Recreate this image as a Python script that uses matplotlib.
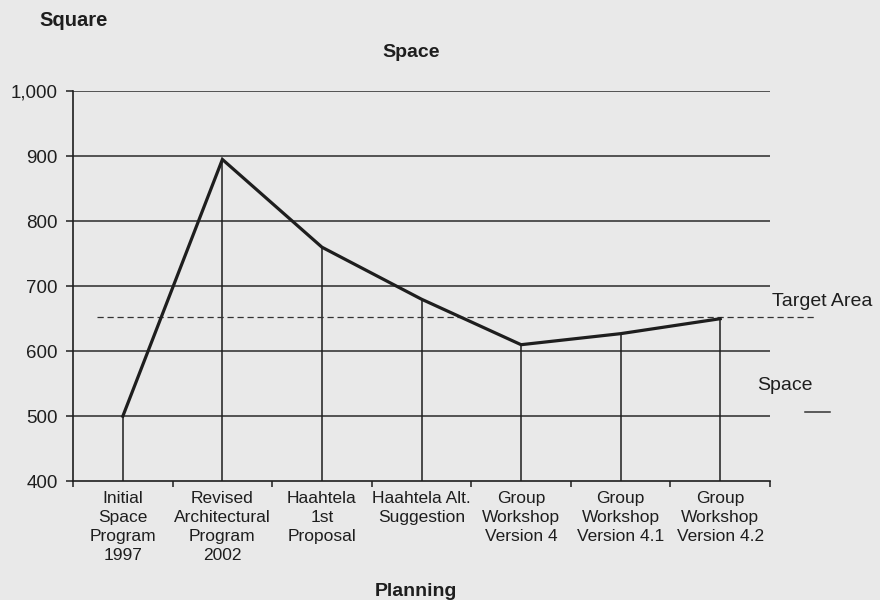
import numpy as np
import matplotlib
matplotlib.use("Agg")
import matplotlib.pyplot as plt
from matplotlib.lines import Line2D

plt.rcParams['font.family'] = ['Liberation Sans', 'DejaVu Sans']

categories = ["Initial\nSpace\nProgram\n1997",
              "Revised\nArchitectural\nProgram\n2002",
              "Haahtela\n1st\nProposal",
              "Haahtela Alt.\nSuggestion",
              "Group\nWorkshop\nVersion 4",
              "Group\nWorkshop\nVersion 4.1",
              "Group\nWorkshop\nVersion 4.2"]
space = [500, 895, 760, 680, 610, 627, 650]
target_area = 653
y_ticks = [400, 500, 600, 700, 800, 900, 1000]

bg = "#e9e9e9"
ink = "#1e1e1e"

fig = plt.figure(figsize=(8.8, 6.0), dpi=100, facecolor=bg)
ax = fig.add_axes([0.083, 0.198, 0.792, 0.65], facecolor=bg)

x = np.arange(len(categories))

# grid lines
for v in y_ticks[1:]:
    ax.axhline(v, color="#2a2a2a", lw=1.1, zorder=1)

# drop lines
ax.vlines(x, 400, space, color=ink, lw=1.1, zorder=2)

# main line
ax.plot(x, space, color=ink, lw=2.3, zorder=3, solid_joinstyle="miter")

# target dashed line, runs past the right edge
ax.axhline(target_area, xmin=0.034, xmax=1.065, color="#333333", lw=0.9,
           ls=(0, (5, 3)), clip_on=False, zorder=2)

ax.set_xlim(-0.5, len(categories) - 0.5)
ax.set_ylim(400, 1000)
ax.set_yticks(y_ticks)
ax.set_yticklabels([f"{v:,}" for v in y_ticks], fontsize=13.5, color=ink)

ax.set_xticks(x)
ax.set_xticklabels(categories, fontsize=12.5, color=ink, linespacing=1.34, va="top")
ax.tick_params(axis="x", length=0, pad=7)
ax.set_xticks(np.arange(-0.5, len(categories)), minor=True)
ax.tick_params(axis="x", which="minor", length=4, width=1.1, color=ink, direction="out")
ax.tick_params(axis="y", length=5, width=1.1, color=ink, direction="out", pad=6)

for s in ["top", "right"]:
    ax.spines[s].set_visible(False)
for s in ["left", "bottom"]:
    ax.spines[s].set_color(ink)
    ax.spines[s].set_linewidth(1.2)

fig.text(0.045, 0.965, "Square", fontsize=14.5, fontweight="bold", color=ink, va="center")
fig.text(0.467, 0.913, "Space", fontsize=14, fontweight="bold", color=ink, ha="center", va="center")
fig.text(0.473, 0.015, "Planning", fontsize=14, fontweight="bold", color=ink, ha="center", va="center")

fig.text(0.877, 0.497, "Target Area", fontsize=14, color=ink, va="center")
fig.text(0.86, 0.358, "Space", fontsize=14, color=ink, va="center")
fig.add_artist(Line2D([0.915, 0.943], [0.313, 0.313], color="#333333", lw=1.1,
                      transform=fig.transFigure))

fig.savefig("out.png", dpi=100, facecolor=bg)
